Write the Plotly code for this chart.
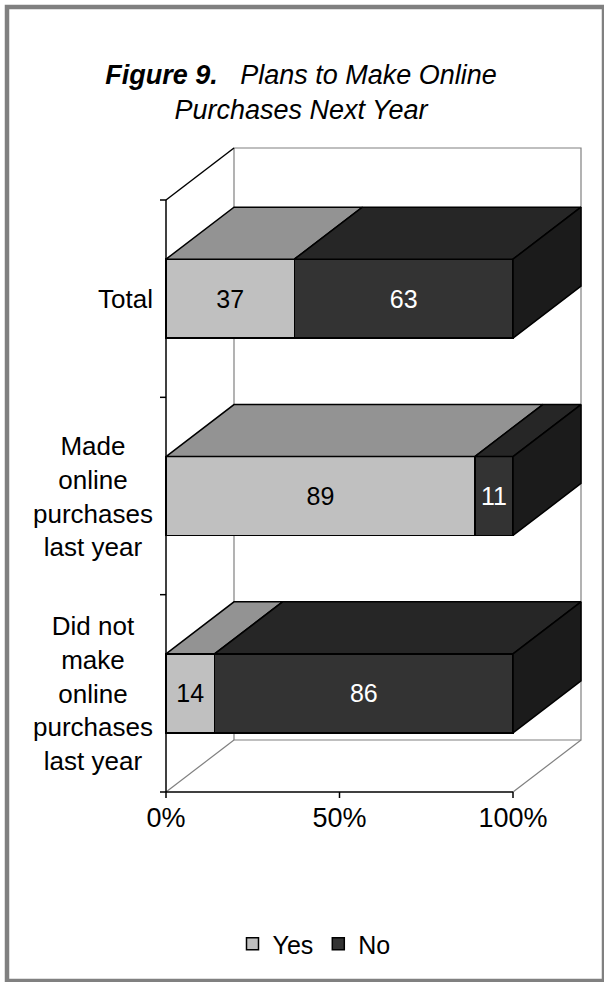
import plotly.graph_objects as go

# ---- data ----
categories = ["Total", "Made online purchases last year", "Did not make online purchases last year"]
category_labels = ["Total", "Made<br>online<br>purchases<br>last year",
                   "Did not<br>make<br>online<br>purchases<br>last year"]
series_names = ["Yes", "No"]
yes_values = [37, 89, 14]
no_values = [63, 11, 86]
x_tick_vals = [0, 50, 100]
x_tick_text = ["0%", "50%", "100%"]

# ---- styling ----
W, H = 604, 982
FONT = "Liberation Sans, Arial, Helvetica, sans-serif"
front_colors = {"Yes": "#C0C0C0", "No": "#333333"}
top_colors = {"Yes": "#939393", "No": "#262626"}
side_colors = {"Yes": "#7A7A7A", "No": "#1B1B1B"}
label_colors = {"Yes": "black", "No": "white"}
EDGE = dict(color="black", width=1.5)
WALL = dict(color="#808080", width=1.2)

# pixel geometry of the pseudo-3D box
X0_PX, X100_PX = 166, 513          # front plane: 0% and 100%
Y_BOTTOM_PX, Y_TOP_PX = 792, 200   # front plane: floor and top of category axis
DEPTH_DX_PX, DEPTH_DY_PX = 68, 52  # offset from front plane to back wall
BAR_WIDTH = 0.4
PAD = dict(l=8, r=4, t=4, b=7)
TICK_PX = 6

n = len(categories)
px_per_x = (X100_PX - X0_PX) / 100.0
px_per_y = (Y_BOTTOM_PX - Y_TOP_PX) / n
dx = DEPTH_DX_PX / px_per_x
dy = DEPTH_DY_PX / px_per_y
y_lo, y_hi = -0.5, n - 0.5

x_range = [-PAD["l"] / px_per_x, 100 + dx + PAD["r"] / px_per_x]
y_range = [y_lo - PAD["b"] / px_per_y, y_hi + dy + PAD["t"] / px_per_y]
m_l = X0_PX - PAD["l"]
m_r = W - (X100_PX + DEPTH_DX_PX + PAD["r"])
m_t = Y_TOP_PX - DEPTH_DY_PX - PAD["t"]
m_b = H - (Y_BOTTOM_PX + PAD["b"])
plot_w = W - m_l - m_r
plot_h = H - m_t - m_b


def paper_x(px):
    return (px - m_l) / plot_w


def paper_y(py):
    return (H - m_b - py) / plot_h


series = {"Yes": yes_values, "No": no_values}
ypos = [n - 1 - i for i in range(n)]  # first category on top

fig = go.Figure()

# front faces of the stacked bars
for name in series_names:
    vals = series[name]
    fig.add_trace(go.Bar(
        orientation="h", y=ypos, x=vals, name=name, width=BAR_WIDTH,
        marker=dict(color=front_colors[name], line=EDGE),
        texttemplate="%{x}", textposition="inside", insidetextanchor="middle",
        textangle=0,
        insidetextfont=dict(family=FONT, size=25, color=label_colors[name]),
        hoverinfo="skip",
    ))

# top and side faces of each segment
for i, y in enumerate(ypos):
    yt = y + BAR_WIDTH / 2
    yb = y - BAR_WIDTH / 2
    start = 0
    for k, name in enumerate(series_names):
        end = start + series[name][i]
        fig.add_trace(go.Scatter(
            x=[start, end, end + dx, start + dx, start],
            y=[yt, yt, yt + dy, yt + dy, yt],
            mode="lines", fill="toself", fillcolor=top_colors[name],
            line=EDGE, showlegend=False, hoverinfo="skip",
        ))
        if k == len(series_names) - 1:
            fig.add_trace(go.Scatter(
                x=[end, end, end + dx, end + dx, end],
                y=[yb, yt, yt + dy, yb + dy, yb],
                mode="lines", fill="toself", fillcolor=side_colors[name],
                line=EDGE, showlegend=False, hoverinfo="skip",
            ))
        start = end

shapes = []
# back wall and floor edges
shapes.append(dict(type="rect", xref="x", yref="y", x0=dx, x1=100 + dx,
                   y0=y_lo + dy, y1=y_hi + dy, line=WALL, layer="below"))
shapes.append(dict(type="line", xref="x", yref="y", x0=0, y0=y_lo, x1=dx, y1=y_lo + dy,
                   line=WALL, layer="below"))
shapes.append(dict(type="line", xref="x", yref="y", x0=100, y0=y_lo, x1=100 + dx, y1=y_lo + dy,
                   line=WALL, layer="below"))
# left wall top edge and front axes
shapes.append(dict(type="line", xref="x", yref="y", x0=0, y0=y_hi, x1=dx, y1=y_hi + dy,
                   line=EDGE, layer="below"))
shapes.append(dict(type="line", xref="x", yref="y", x0=0, y0=y_lo, x1=0, y1=y_hi,
                   line=EDGE, layer="below"))
shapes.append(dict(type="line", xref="x", yref="y", x0=0, y0=y_lo, x1=100, y1=y_lo,
                   line=EDGE, layer="below"))
# category boundary ticks
for b in range(n + 1):
    yv = y_lo + b
    shapes.append(dict(type="line", xref="x", yref="y", x0=0, x1=-TICK_PX / px_per_x,
                       y0=yv, y1=yv, line=EDGE, layer="below"))
# value ticks
for tv in x_tick_vals:
    shapes.append(dict(type="line", xref="x", yref="y", x0=tv, x1=tv,
                       y0=y_lo, y1=y_lo - TICK_PX / px_per_y, line=EDGE, layer="below"))
# outer frame
shapes.append(dict(type="rect", xref="paper", yref="paper",
                   x0=paper_x(7), x1=paper_x(604), y0=paper_y(981), y1=paper_y(7),
                   line=dict(color="#808080", width=4.5), layer="below"))

annotations = []
for lab, y in zip(category_labels, ypos):
    annotations.append(dict(
        text=lab, xref="x", yref="y", x=0, y=y, xshift=-11,
        xanchor="right", yanchor="middle", align="center", showarrow=False,
        font=dict(family=FONT, size=26, color="black"),
    ))

fig.update_layout(
    width=W, height=H,
    margin=dict(l=m_l, r=m_r, t=m_t, b=m_b, pad=0),
    paper_bgcolor="white", plot_bgcolor="white",
    barmode="stack",
    font=dict(family=FONT, color="black"),
    title=dict(
        text="<b><i>Figure 9.</i></b>\u00a0\u00a0 <i>Plans to Make Online</i><br><i>Purchases Next Year</i>",
        xref="container", yref="container", x=301 / W, y=1 - 84 / H,
        xanchor="center", yanchor="middle",
        font=dict(family=FONT, size=27, color="black"),
    ),
    xaxis=dict(range=x_range, tickvals=x_tick_vals, ticktext=x_tick_text, ticks="",
               showgrid=False, zeroline=False, showline=False, fixedrange=True,
               tickfont=dict(family=FONT, size=27, color="black")),
    yaxis=dict(range=y_range, showticklabels=False, ticks="", showgrid=False,
               zeroline=False, showline=False, fixedrange=True),
    legend=dict(orientation="h", xref="container", yref="container",
                x=314 / W, y=1 - 944 / H, xanchor="center", yanchor="middle",
                traceorder="normal",
                font=dict(family=FONT, size=25, color="black"), itemwidth=30,
                bgcolor="rgba(0,0,0,0)"),
    shapes=shapes,
    annotations=annotations,
    showlegend=True,
)

fig.write_html("out.html")
